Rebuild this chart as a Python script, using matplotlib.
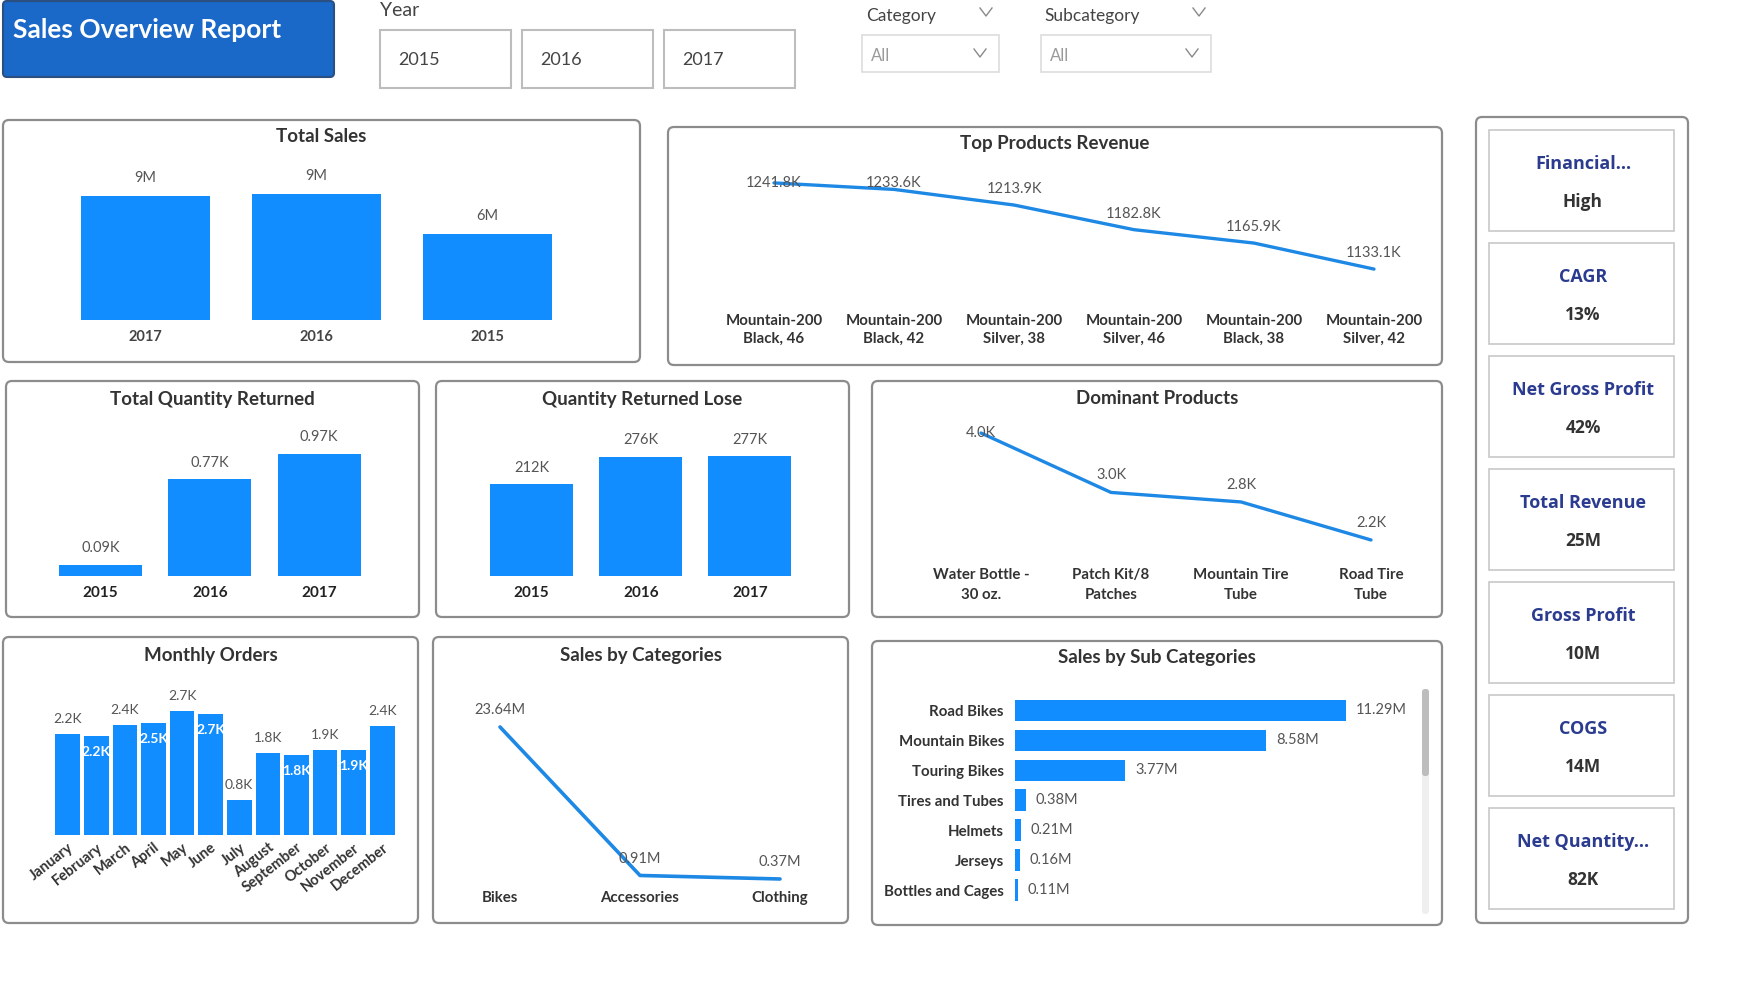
import numpy as np
import matplotlib.pyplot as plt
from matplotlib.patches import FancyBboxPatch, Rectangle

plt.rcParams['font.family'] = ['Lato', 'DejaVu Sans']

W, H = 1738, 992
BAR = '#118dff'
LINE = '#1e88e5'
TXT = '#333333'
LBL = '#555555'

# ---- data ----
slicer_years = ['2015', '2016', '2017']

sales_years = ['2017', '2016', '2015']
total_sales_m = [9.05, 9.2, 6.3]

top_products = ['Mountain-200\nBlack, 46', 'Mountain-200\nBlack, 42', 'Mountain-200\nSilver, 38',
                'Mountain-200\nSilver, 46', 'Mountain-200\nBlack, 38', 'Mountain-200\nSilver, 42']
top_products_rev_k = [1241.8, 1233.6, 1213.9, 1182.8, 1165.9, 1133.1]

return_years = ['2015', '2016', '2017']
qty_returned_k = [0.09, 0.77, 0.97]
qty_returned_lose_k = [212, 276, 277]

dominant_products = ['Water Bottle -\n30 oz.', 'Patch Kit/8\nPatches', 'Mountain Tire\nTube', 'Road Tire\nTube']
dominant_qty_k = [4.0, 3.0, 2.84, 2.2]

months = ['January', 'February', 'March', 'April', 'May', 'June', 'July',
          'August', 'September', 'October', 'November', 'December']
monthly_orders_k = [2.22, 2.17, 2.41, 2.46, 2.72, 2.66, 0.77, 1.79, 1.76, 1.86, 1.86, 2.38]
monthly_label_pos = ['out', 'in', 'out', 'in', 'out', 'in', 'out', 'out', 'in', 'out', 'in', 'out']

categories = ['Bikes', 'Accessories', 'Clothing']
category_sales_m = [23.64, 0.91, 0.37]

subcategories = ['Road Bikes', 'Mountain Bikes', 'Touring Bikes', 'Tires and Tubes',
                 'Helmets', 'Jerseys', 'Bottles and Cages']
subcategory_sales_m = [11.29, 8.58, 3.77, 0.38, 0.21, 0.16, 0.11]

kpi_names = ['Financial...', 'CAGR', 'Net Gross Profit', 'Total Revenue', 'Gross Profit', 'COGS', 'Net Quantity...']
kpi_values = ['High', '13%', '42%', '25M', '10M', '14M', '82K']


fig = plt.figure(figsize=(W / 100, H / 100), dpi=100)
fig.patch.set_facecolor('white')
bg = fig.add_axes([0, 0, 1, 1])
bg.set_xlim(0, W)
bg.set_ylim(H, 0)
bg.axis('off')


def ax_at(x0, y0, x1, y1):
    # axes placed by pixel box, top-left origin
    ax = fig.add_axes([x0 / W, 1 - y1 / H, (x1 - x0) / W, (y1 - y0) / H])
    ax.patch.set_alpha(0)
    for s in ax.spines.values():
        s.set_visible(False)
    ax.set_yticks([])
    ax.tick_params(length=0)
    return ax


def panel(x0, y0, x1, y1, title=None, ty=None):
    bg.add_patch(FancyBboxPatch((x0, y0), x1 - x0, y1 - y0, boxstyle='round,pad=0,rounding_size=6',
                                fc='white', ec='#8c8c8c', lw=1.6))
    if title:
        bg.text((x0 + x1) / 2, ty, title, ha='center', va='center', fontsize=13.5,
                fontweight='bold', color=TXT)


def chevron(cx, cy, w=6, h=4):
    bg.plot([cx - w, cx, cx + w], [cy - h, cy + h, cy - h], color='#8a8a8a', lw=1)


def px_per_unit(ax):
    y0, y1 = ax.get_ylim()
    return ax.get_position().height * H / (y1 - y0)


def line_labels(ax, vals, texts, off_px):
    ppu = px_per_unit(ax)
    top = max(vals)
    for i, (v, t) in enumerate(zip(vals, texts)):
        ax.text(i, min(v + off_px / ppu, top), t, ha='center', va='center', fontsize=10.5, color=LBL)


# ---- header ----
bg.add_patch(FancyBboxPatch((3, 1), 331, 76, boxstyle='round,pad=0,rounding_size=4',
                            fc='#1a68c7', ec='#2b4f80', lw=1.5))
bg.text(13, 30, 'Sales Overview Report', ha='left', va='center', fontsize=19,
        fontweight='bold', color='white')

bg.text(380, 11, 'Year', ha='left', va='center', fontsize=14, color='#444444')
for i, y in enumerate(slicer_years):
    x0 = 380 + i * 142
    bg.add_patch(Rectangle((x0, 30), 131, 58, fc='white', ec='#bdbdbd', lw=1.5))
    bg.text(x0 + 18, 60, y, ha='left', va='center', fontsize=13, color='#444444')

for label, lx, cx, bx0, bx1 in [('Category', 866, 986, 862, 999), ('Subcategory', 1044, 1199, 1041, 1211)]:
    bg.text(lx, 16, label, ha='left', va='center', fontsize=12.5, color='#444444')
    chevron(cx, 12)
    bg.add_patch(Rectangle((bx0, 35), bx1 - bx0, 37, fc='white', ec='#dddddd', lw=1.2))
    bg.text(bx0 + 9, 56, 'All', ha='left', va='center', fontsize=12, color='#9a9a9a')
    chevron(bx1 - 19, 53)

# ---- panels ----
panel(3, 120, 640, 362, 'Total Sales', 136)
panel(668, 127, 1442, 365, 'Top Products Revenue', 144)
panel(6, 381, 419, 617, 'Total Quantity Returned', 399)
panel(436, 381, 849, 617, 'Quantity Returned Lose', 399)
panel(872, 381, 1442, 617, 'Dominant Products', 399)
panel(3, 637, 418, 923, 'Monthly Orders', 655)
panel(433, 637, 848, 923, 'Sales by Categories', 655)
panel(872, 641, 1442, 925, 'Sales by Sub Categories', 657)
panel(1476, 117, 1688, 923)

# ---- Total Sales ----
ax = ax_at(60, 150, 573, 320)
ax.bar(range(3), total_sales_m, width=0.76, color=BAR)
ax.set_xlim(-0.5, 2.5)
ax.set_ylim(0, 12.4)
ax.set_xticks(range(3), sales_years, fontsize=10.5, fontweight='bold', color='#444444')
ax.tick_params(axis='x', pad=7)
for i, v in enumerate(total_sales_m):
    ax.annotate(f'{v:.0f}M', (i, v), xytext=(0, 13), textcoords='offset points',
                ha='center', va='center', fontsize=10.5, color=LBL)

# ---- Top Products Revenue ----
ax = ax_at(714, 160, 1434, 300)
ax.plot(range(6), top_products_rev_k, color=LINE, lw=2.4, solid_capstyle='round')
ax.set_xlim(-0.5, 5.5)
ax.set_ylim(1094.1, 1270.7)
ax.set_xticks(range(6), top_products, fontsize=10.8, fontweight='bold', color=TXT, linespacing=1.35)
ax.tick_params(axis='x', pad=10)
line_labels(ax, top_products_rev_k, [f'{v:.1f}K' for v in top_products_rev_k], 16)

# ---- Total Quantity Returned ----
ax = ax_at(45.5, 420, 374, 576)
ax.bar(range(3), qty_returned_k, width=0.76, color=BAR)
ax.set_xlim(-0.5, 2.5)
ax.set_ylim(0, 1.242)
ax.set_xticks(range(3), return_years, fontsize=11, fontweight='bold', color='#222222')
ax.tick_params(axis='x', pad=7)
for i, v in enumerate(qty_returned_k):
    ax.annotate(f'{v:.2f}K', (i, v), xytext=(0, 12), textcoords='offset points',
                ha='center', va='center', fontsize=10.5, color=LBL)

# ---- Quantity Returned Lose ----
ax = ax_at(477, 420, 804.4, 576)
ax.bar(range(3), qty_returned_lose_k, width=0.76, color=BAR)
ax.set_xlim(-0.5, 2.5)
ax.set_ylim(0, 361)
ax.set_xticks(range(3), return_years, fontsize=11, fontweight='bold', color='#222222')
ax.tick_params(axis='x', pad=7)
for i, v in enumerate(qty_returned_lose_k):
    ax.annotate(f'{v:.0f}K', (i, v), xytext=(0, 12), textcoords='offset points',
                ha='center', va='center', fontsize=10.5, color=LBL)

# ---- Dominant Products ----
ax = ax_at(916, 420, 1436, 560)
ax.plot(range(4), dominant_qty_k, color=LINE, lw=2.4, solid_capstyle='round')
ax.set_xlim(-0.5, 3.5)
ax.set_ylim(1.863, 4.219)
ax.set_xticks(range(4), dominant_products, fontsize=10.8, fontweight='bold', color=TXT, linespacing=1.55)
ax.tick_params(axis='x', pad=6)
line_labels(ax, dominant_qty_k, [f'{v:.1f}K' for v in dominant_qty_k], 17)

# ---- Monthly Orders ----
ax = ax_at(53.3, 690, 396.7, 835)
bars = ax.bar(range(12), monthly_orders_k, width=0.86, color=BAR)
ax.set_xlim(-0.5, 11.5)
ax.set_ylim(0, 3.18)
ax.set_xticks(range(12), months, fontsize=10.5, fontweight='bold', color=TXT)
for t in ax.get_xticklabels():
    t.set_rotation(38)
    t.set_ha('right')
    t.set_rotation_mode('anchor')
ax.tick_params(axis='x', pad=4)
ppu = px_per_unit(ax)
for i, (v, pos, b) in enumerate(zip(monthly_orders_k, monthly_label_pos, bars)):
    if pos == 'out':
        ax.text(i, v + 15 / ppu, f'{v:.1f}K', ha='center', va='center', fontsize=10, color=LBL)
    else:
        t = ax.text(i, v - 16 / ppu, f'{v:.1f}K', ha='center', va='center', fontsize=10,
                    color='white', fontweight='bold')
        t.set_clip_path(b)

# ---- Sales by Categories ----
ax = ax_at(430, 700, 850, 885)
ax.plot(range(3), category_sales_m, color=LINE, lw=2.6, solid_capstyle='round')
ax.set_xlim(-0.5, 2.5)
ax.set_ylim(-0.55, 27.77)
ax.set_xticks(range(3), categories, fontsize=10.8, fontweight='bold', color=TXT)
ax.tick_params(axis='x', pad=4)
ppu = px_per_unit(ax)
for i, v in enumerate(category_sales_m):
    ax.text(i, v + 16.5 / ppu, f'{v:.2f}M', ha='center', va='center', fontsize=10.5, color=LBL)

# ---- Sales by Sub Categories ----
ax = ax_at(1015, 695.5, 1420, 905)
ax.barh(range(7), subcategory_sales_m, height=0.72, color=BAR)
ax.set_ylim(6.5, -0.5)
ax.set_xlim(0, 13.83)
ax.set_xticks([])
ax.set_yticks(range(7), subcategories, fontsize=10.8, fontweight='bold', color=TXT)
ax.tick_params(axis='y', pad=8)
for i, v in enumerate(subcategory_sales_m):
    ax.annotate(f'{v:.2f}M', (v, i), xytext=(7, 0), textcoords='offset points',
                ha='left', va='center', fontsize=10.5, color=LBL)
# scrollbar
bg.add_patch(FancyBboxPatch((1422, 689), 7, 225, boxstyle='round,pad=0,rounding_size=3',
                            fc='#efefef', ec='none'))
bg.add_patch(FancyBboxPatch((1422, 689), 7, 87, boxstyle='round,pad=0,rounding_size=3',
                            fc='#bdbdbd', ec='none'))

# ---- KPI cards ----
for i, (name, val) in enumerate(zip(kpi_names, kpi_values)):
    y0 = 130 + i * 113
    bg.add_patch(Rectangle((1489, y0), 185, 101, fc='white', ec='#c8c8c8', lw=1.2))
    bg.text(1583, y0 + 34, name, ha='center', va='center', fontsize=13, fontweight='bold',
            color='#2b3b8f', family=['Open Sans', 'DejaVu Sans'])
    bg.text(1583, y0 + 72, val, ha='center', va='center', fontsize=12.5, fontweight='bold',
            color='#333333', family=['Open Sans', 'DejaVu Sans'])

fig.savefig('out.png', dpi=100, facecolor='white')
